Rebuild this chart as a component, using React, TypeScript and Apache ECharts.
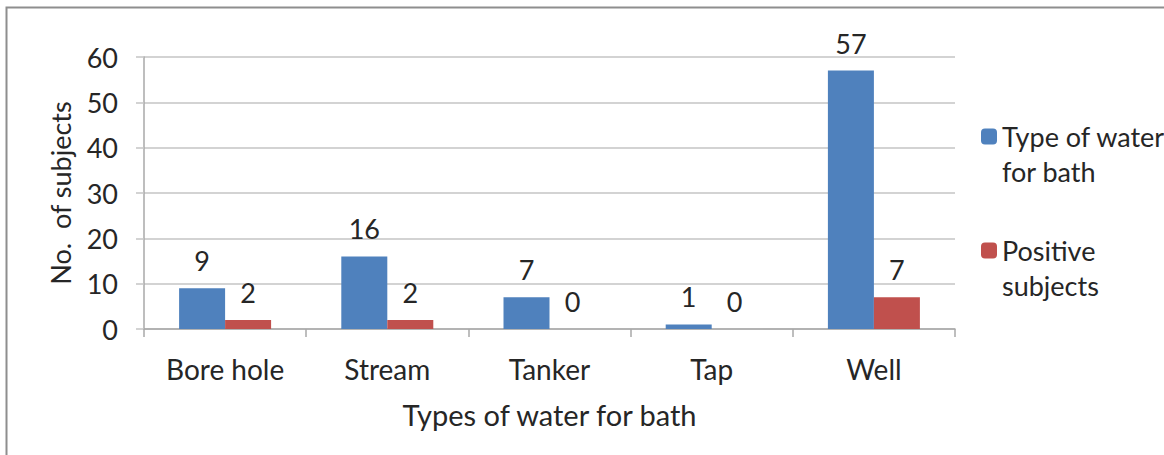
import React, { useEffect, useRef } from "react";
import * as echarts from "echarts";

const categories = ["Bore hole", "Stream", "Tanker", "Tap", "Well"];
const waterForBath = [9, 16, 7, 1, 57];
const positiveSubjects = [2, 2, 0, 0, 7];
const seriesNames = ["Type of water for bath", "Positive subjects"];
const legendLabels = ["Type of water\nfor bath", "Positive\nsubjects"];
const yTicks = { min: 0, max: 60, interval: 10 };

const FONT = "Lato, 'Open Sans', sans-serif";
const TEXT = "#262626";
const GRID = "#c4c4c4";

export default function App() {
  const ref = useRef<HTMLDivElement>(null);
  useEffect(() => {
    if (!ref.current) return;
    const chart = echarts.init(ref.current, null, { renderer: "svg" });
    const legendText = {
      fontFamily: FONT,
      fontSize: 27,
      color: TEXT,
      lineHeight: 35,
    };
    chart.setOption({
      animation: false,
      backgroundColor: "#ffffff",
      textStyle: { fontFamily: FONT },
      graphic: [
        {
          type: "rect",
          left: 4,
          top: 5,
          shape: { width: 1200, height: 500 },
          style: { fill: "none", stroke: "#8e8e8e", lineWidth: 2 },
          silent: true,
        },
      ],
      legend: [
        {
          data: [seriesNames[0]],
          left: 976,
          top: 79,
          itemWidth: 16,
          itemHeight: 16,
          itemGap: 0,
          formatter: () => "\n" + legendLabels[0],
          textStyle: legendText,
          selectedMode: false,
        },
        {
          data: [seriesNames[1]],
          left: 976,
          top: 193,
          itemWidth: 16,
          itemHeight: 16,
          itemGap: 0,
          formatter: () => "\n" + legendLabels[1],
          textStyle: legendText,
          selectedMode: false,
        },
      ],
      grid: { left: 144, right: 209, top: 57, bottom: 126, containLabel: false },
      xAxis: {
        type: "category",
        data: categories,
        name: "Types of water for bath",
        nameLocation: "middle",
        nameGap: 71,
        nameTextStyle: { fontFamily: FONT, fontSize: 29, color: TEXT },
        axisLine: { lineStyle: { color: "#a8a8a8", width: 1.5 } },
        axisTick: { show: true, length: 8, lineStyle: { color: "#a8a8a8", width: 1.5 } },
        axisLabel: { fontFamily: FONT, fontSize: 28, color: TEXT, margin: 26 },
      },
      yAxis: {
        type: "value",
        min: yTicks.min,
        max: yTicks.max,
        interval: yTicks.interval,
        name: "No.  of subjects",
        nameLocation: "middle",
        nameGap: 70,
        nameRotate: 90,
        nameTextStyle: { fontFamily: FONT, fontSize: 27, color: TEXT },
        axisLine: { show: true, lineStyle: { color: "#a8a8a8", width: 1.5 } },
        axisTick: { show: true, length: 8, lineStyle: { color: GRID, width: 1.5 } },
        axisLabel: { fontFamily: FONT, fontSize: 27, color: TEXT, margin: 26 },
        splitLine: { show: true, lineStyle: { color: GRID, width: 1.5 } },
      },
      series: [
        {
          name: seriesNames[0],
          type: "bar",
          data: waterForBath,
          barWidth: 46,
          barGap: "0%",
          itemStyle: { color: "#4F81BD" },
          label: {
            show: true,
            position: "top",
            distance: 14,
            fontFamily: FONT,
            fontSize: 27,
            color: TEXT,
          },
        },
        {
          name: seriesNames[1],
          type: "bar",
          data: positiveSubjects,
          barWidth: 46,
          barGap: "0%",
          itemStyle: { color: "#C0504D" },
          label: {
            show: true,
            position: "top",
            distance: 14,
            fontFamily: FONT,
            fontSize: 27,
            color: TEXT,
          },
        },
      ],
    });
    return () => chart.dispose();
  }, []);
  return (
    <div
      ref={ref}
      style={{ position: "fixed", left: 0, top: 0, width: 1164, height: 455 }}
    />
  );
}
